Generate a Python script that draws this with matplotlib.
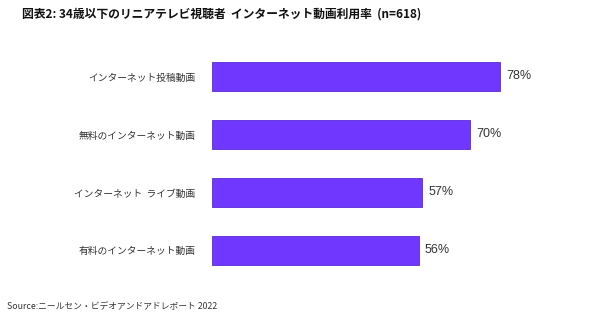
import matplotlib
matplotlib.use("Agg")
import matplotlib.pyplot as plt

plt.rcParams['font.family'] = ['Noto Sans CJK JP', 'DejaVu Sans']

categories = ['インターネット投稿動画', '無料のインターネット動画',
              'インターネット  ライブ動画', '有料のインターネット動画']
values = [78, 70, 57, 56]

fig = plt.figure(figsize=(5.95, 3.23), dpi=100)
ax = fig.add_axes([0.356, 0.135, 0.621, 0.718])

ypos = list(range(len(categories)))
ax.barh(ypos, values, height=0.5, color='#7038ff', edgecolor='#5a2ad6', linewidth=0.6)
ax.set_xlim(0, 100)
ax.set_ylim(len(categories) - 0.5, -0.5)

for y, v in zip(ypos, values):
    ax.text(v + 1.6, y, f'{v}%', va='center', ha='left', fontsize=9,
            color='#333333', family=['Liberation Sans', 'DejaVu Sans'])

ax.set_yticks(ypos)
ax.set_yticklabels(categories, fontsize=7.0, color='#333333')
ax.tick_params(axis='y', length=0, pad=12)
ax.set_xticks([])
for s in ax.spines.values():
    s.set_visible(False)

fig.text(0.037, 0.957, '図表2: 34歳以下のリニアテレビ視聴者  インターネット動画利用率  (n=618)',
         fontsize=8.5, fontweight='bold', va='center', ha='left', color='#111111')
fig.text(0.012, 0.05, 'Source:ニールセン・ビデオアンドアドレポート 2022',
         fontsize=6.3, va='center', ha='left', color='#333333')

fig.savefig('out.png', dpi=100)
